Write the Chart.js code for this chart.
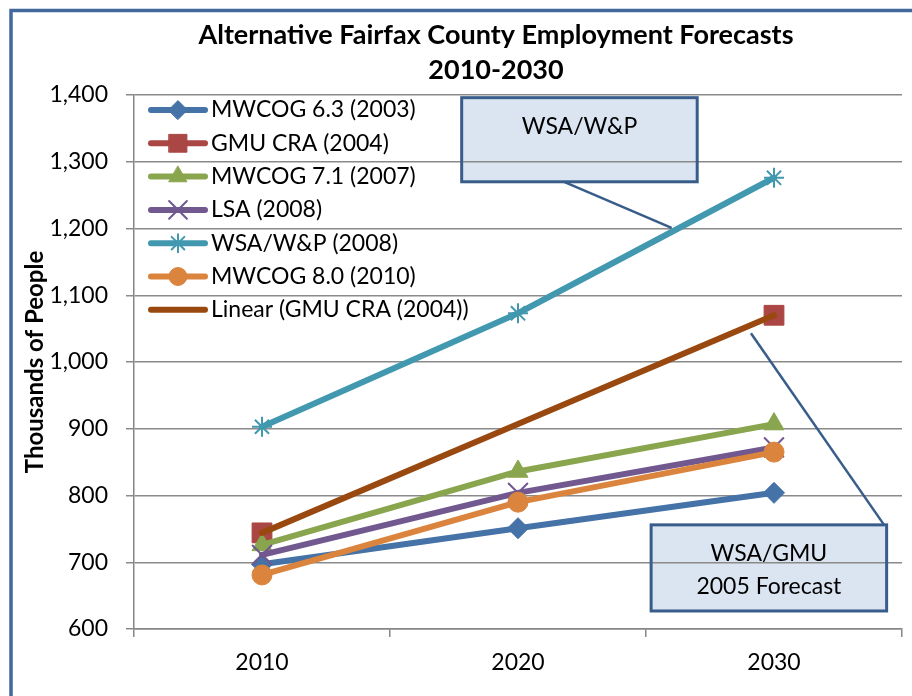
<!DOCTYPE html>
<html>
<head>
<meta charset="utf-8">
<script src="https://cdn.jsdelivr.net/npm/chart.js@4.4.1/dist/chart.umd.min.js"></script>
<style>
  html, body { margin: 0; padding: 0; background: #fff; overflow: hidden; }
  canvas { display: block; }
</style>
</head>
<body>
<canvas id="emplois" width="912" height="696"></canvas>
<script>
// valeurs (milliers d'emplois)
const annees = ['2010', '2020', '2030'];
const mwcog63 = [697, 751, 804];
const gmuCra = [744, null, 1070];
const mwcog71 = [726, 836, 907];
const lsa = [711, 804, 872];
const wsaWP = [903, 1073, 1276];
const mwcog80 = [681, 790, 865];
const tendanceGmu = [744, 907, 1070];

const titre = ['Alternative Fairfax County Employment Forecasts', '2010-2030'];
const police = 'Lato, "Open Sans", sans-serif';

// encadrés d'annotation, en unités du graphique (index de catégorie, valeur)
const encadres = [
  { texte: ['WSA/W&P'], x: [0.78, 1.70], y: [1396, 1270], de: [1.18, 1270], vers: [1.60, 1201] },
  { texte: ['WSA/GMU', '2005 Forecast'], x: [1.52, 2.44], y: [756, 627], de: [2.43, 756], vers: [1.91, 1043] }
];

function serie(label, data, couleur, style, rayon, bord) {
  return {
    label: label,
    data: data,
    borderColor: couleur,
    backgroundColor: couleur,
    borderWidth: 6,
    borderCapStyle: 'round',
    borderJoinStyle: 'round',
    pointStyle: style,
    pointRadius: rayon,
    pointHoverRadius: rayon,
    pointBackgroundColor: couleur,
    pointBorderColor: couleur,
    pointBorderWidth: bord,
    spanGaps: false,
    fill: false,
    tension: 0
  };
}

const datasets = [
  serie('MWCOG 6.3 (2003)', mwcog63, '#4572A7', 'rectRot', 10.5, 1),
  serie('GMU CRA (2004)', gmuCra, '#AA4643', 'rect', 14, 1),
  serie('MWCOG 7.1 (2007)', mwcog71, '#89A54E', 'triangle', 11.5, 1),
  serie('LSA (2008)', lsa, '#71588F', 'crossRot', 14, 2),
  serie('WSA/W&P (2008)', wsaWP, '#4198AF', 'star', 10, 2),
  serie('MWCOG 8.0 (2010)', mwcog80, '#DB843D', 'circle', 10, 1),
  serie('Linear (GMU CRA (2004))', tendanceGmu, '#99490F', false, 0, 0)
];
// ordre Excel : la dernière série est dessinée par-dessus
datasets.forEach((d, i) => { d.order = datasets.length - i; });

const cadre = {
  id: 'cadre',
  beforeDraw(chart) {
    const ctx = chart.ctx;
    const sx = chart.scales.x, sy = chart.scales.y;
    ctx.save();
    ctx.fillStyle = '#fff';
    ctx.fillRect(0, 0, chart.width, chart.height);
    ctx.strokeStyle = '#41699C';
    ctx.lineWidth = 3.5;
    ctx.strokeRect(11, 10.5, 1400, 1400);
    // fond des encadrés, sous le quadrillage
    ctx.fillStyle = '#DBE5F1';
    encadres.forEach(e => {
      const x0 = sx.getPixelForValue(e.x[0]), x1 = sx.getPixelForValue(e.x[1]);
      const y0 = sy.getPixelForValue(e.y[0]), y1 = sy.getPixelForValue(e.y[1]);
      ctx.fillRect(x0, y0, x1 - x0, y1 - y0);
    });
    // titre
    ctx.fillStyle = '#000';
    ctx.font = 'bold 27px ' + police;
    ctx.textAlign = 'center';
    ctx.textBaseline = 'middle';
    titre.forEach((t, i) => ctx.fillText(t, 496, 35 + i * 35));
    ctx.restore();
  },
  afterDatasetsDraw(chart) {
    const ctx = chart.ctx;
    const a = chart.chartArea;
    const sx = chart.scales.x, sy = chart.scales.y;
    ctx.save();

    // légende à l'intérieur du graphique
    chart.data.datasets.forEach((ds, i) => {
      const y = a.top + 15 + i * 33.3;
      const x0 = a.left + 17, x1 = a.left + 71;
      ctx.strokeStyle = ds.borderColor;
      ctx.lineWidth = 6;
      ctx.lineCap = 'round';
      ctx.beginPath();
      ctx.moveTo(x0, y);
      ctx.lineTo(x1, y);
      ctx.stroke();
      if (ds.pointStyle && ds.pointRadius > 0) {
        ctx.fillStyle = ds.pointBackgroundColor;
        ctx.strokeStyle = ds.pointBorderColor;
        ctx.lineWidth = ds.pointBorderWidth;
        Chart.helpers.drawPoint(ctx, {
          pointStyle: ds.pointStyle,
          radius: ds.pointRadius * 0.9,
          borderWidth: ds.pointBorderWidth,
          rotation: 0
        }, (x0 + x1) / 2, y);
      }
      ctx.fillStyle = '#000';
      ctx.font = '23px ' + police;
      ctx.textAlign = 'left';
      ctx.textBaseline = 'middle';
      ctx.fillText(ds.label, a.left + 77, y);
    });

    // encadrés et traits de rappel
    encadres.forEach(e => {
      const x0 = sx.getPixelForValue(e.x[0]), x1 = sx.getPixelForValue(e.x[1]);
      const y0 = sy.getPixelForValue(e.y[0]), y1 = sy.getPixelForValue(e.y[1]);
      ctx.strokeStyle = '#385D8A';
      ctx.lineWidth = 2.5;
      ctx.lineCap = 'butt';
      ctx.beginPath();
      ctx.moveTo(sx.getPixelForValue(e.de[0]), sy.getPixelForValue(e.de[1]));
      ctx.lineTo(sx.getPixelForValue(e.vers[0]), sy.getPixelForValue(e.vers[1]));
      ctx.stroke();
      ctx.lineWidth = 3;
      ctx.strokeRect(x0, y0, x1 - x0, y1 - y0);
      ctx.fillStyle = '#000';
      ctx.font = '23px ' + police;
      ctx.textAlign = 'center';
      ctx.textBaseline = 'middle';
      e.texte.forEach((t, i) => ctx.fillText(t, (x0 + x1) / 2, y0 + 29 + i * 33));
    });
    ctx.restore();
  }
};

new Chart(document.getElementById('emplois'), {
  type: 'line',
  data: {
    labels: annees,
    datasets: datasets
  },
  options: {
    responsive: false,
    animation: false,
    devicePixelRatio: 1,
    layout: {
      autoPadding: false,
      padding: { left: 14, right: 10, top: 95, bottom: 0 }
    },
    plugins: {
      legend: { display: false },
      title: { display: false },
      tooltip: { enabled: false }
    },
    scales: {
      x: {
        offset: true,
        grid: {
          offset: true,
          drawOnChartArea: false,
          drawTicks: true,
          tickLength: 8,
          color: '#868686',
          lineWidth: 1.5
        },
        border: { color: '#868686', width: 1.5 },
        ticks: {
          color: '#000',
          padding: 12,
          font: { family: police, size: 23 }
        },
        afterFit(scale) {
          scale.height = 67;
          scale.paddingLeft = 0;
          scale.paddingRight = 0;
        }
      },
      y: {
        min: 600,
        max: 1400,
        grid: {
          color: '#8A8A8A',
          lineWidth: 1.5,
          tickLength: 8
        },
        border: { color: '#868686', width: 1.5 },
        ticks: {
          stepSize: 100,
          color: '#000',
          padding: 18,
          font: { family: police, size: 23 },
          callback: v => v.toLocaleString('en-US')
        },
        title: {
          display: true,
          text: 'Thousands of People',
          color: '#000',
          padding: { top: 7, bottom: 0 },
          font: { family: police, size: 24, weight: 'bold' }
        },
        afterFit(scale) { scale.width = 120; }
      }
    }
  },
  plugins: [cadre]
});
</script>
</body>
</html>
